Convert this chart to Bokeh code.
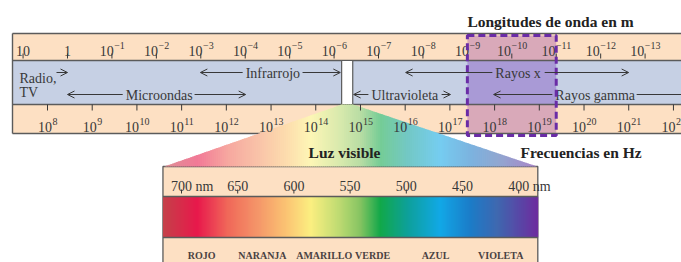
import numpy as np
from bokeh.plotting import figure
from bokeh.models import Range1d, ColumnDataSource, Arrow, OpenHead
from bokeh.core.properties import value
from bokeh.embed import file_html
from bokeh.resources import INLINE

# ------------------------------------------------------------------ data
wl_exponents = [1, 0, -1, -2, -3, -4, -5, -6, -7, -8, -9, -10, -11, -12, -13]
freq_exponents = [8, 9, 10, 11, 12, 13, 14, 15, 16, 17, 18, 19, 20, 21, 22]
nm_ticks = [700, 650, 600, 550, 500, 450, 400]
nm_labels = ["700 nm", "650", "600", "550", "500", "450", "400 nm"]
color_names = ["ROJO", "NARANJA", "AMARILLO", "VERDE", "AZUL", "VIOLETA"]
color_name_nm = [682, 628, 573, 530, 474, 416]

# regions of the spectrum, in log10(wavelength / m)
band_names = ["Infrarrojo", "Microondas", "Ultravioleta", "Rayos x", "Rayos gamma"]
band_start = [-2.99, 0.0, -6.44, -7.61, -9.59]
band_end = [-6.14, -4.01, -8.62, -12.63, -14.5]
band_text_from = [-4.01, -1.31, -6.84, -9.63, -10.98]
band_text_to = [-5.20, -2.77, -8.33, -10.65, -12.72]
band_row = [0, 1, 1, 0, 1]
highlight_exp = [-9, -11]          # X-ray window, 10^-9 .. 10^-11 m

# visible spectrum colour stops (nm -> colour)
spec_nm = [717, 686, 659, 630, 606, 585, 559, 541, 523, 499, 470, 443, 419, 383]
spec_col = ["#c4424a", "#e8194c", "#f0685a", "#f59a6a", "#fbc574", "#fbef80",
            "#bcda72", "#86c462", "#12a84a", "#0ea09a", "#12a8e6", "#1c7cc8",
            "#3f68b0", "#6e2c9e"]

# ------------------------------------------------------------------ layout
X0, DEC = 67.0, 44.43        # x of 1 m, pixels per decade
FX0, FDEC = 47.0, 44.71      # x of 10^8 Hz
NM700, NMSTEP = 181.0, 56.2  # x of 700 nm, pixels per 50 nm
BOX_L, BOX_R = 12, 700
Y_TOP, Y_1, Y_2, Y_BOT = 33, 60, 104, 133
ROW_Y = [72, 94]

PEACH = "#fde0c3"
BLUE = "#c6d0e4"
PEACH_HL = "#d9a9b9"
BLUE_HL = "#a99ad6"
EDGE = "#5b5b5b"
TXT = "#383838"
PURPLE = "#6a2ca6"
SERIF = value("Liberation Serif")


def wx(e):
    return X0 - DEC * e


def fx(e):
    return FX0 + FDEC * (e - 8)


def nx(nm):
    return NM700 + (700 - nm) * NMSTEP / 50.0


def hex2rgb(h):
    return np.array([int(h[i:i + 2], 16) for i in (1, 3, 5)], dtype=float)


stop_x = np.array([nx(v) for v in spec_nm])
stop_rgb = np.array([hex2rgb(c) for c in spec_col])


def spec_color(x, white=0.0):
    rgb = np.array([np.interp(x, stop_x, stop_rgb[:, k]) for k in range(3)])
    rgb = rgb * (1 - white) + 255 * white
    return "#%02x%02x%02x" % tuple(int(round(v)) for v in rgb)


p = figure(width=681, height=262, x_range=Range1d(0, 681), y_range=Range1d(262, 0),
           output_backend="svg", toolbar_location=None, min_border=0,
           x_axis_location=None, y_axis_location=None)
p.grid.visible = False
p.outline_line_color = None
p.background_fill_color = "white"
p.border_fill_color = "white"

# ---- main band fills
p.quad(left=[BOX_L] * 3, right=[BOX_R] * 3, top=[Y_TOP, Y_1, Y_2], bottom=[Y_1, Y_2, Y_BOT],
       fill_color=[PEACH, BLUE, PEACH], line_color=None)
hl_l, hl_r = wx(highlight_exp[0]), wx(highlight_exp[1])
p.quad(left=[hl_l] * 3, right=[hl_r] * 3, top=[35, Y_1, Y_2], bottom=[Y_1, Y_2, Y_BOT],
       fill_color=[PEACH_HL, BLUE_HL, PEACH_HL], line_color=None)

# border lines
p.segment(x0=[BOX_L] * 4 + [BOX_L], x1=[BOX_R] * 4 + [BOX_L],
          y0=[Y_TOP, Y_1, Y_2, Y_BOT, Y_TOP], y1=[Y_TOP, Y_1, Y_2, Y_BOT, Y_BOT],
          line_color=EDGE, line_width=1.4)
# white gap where visible light sits
gap_l, gap_r = wx(-6.17), wx(-6.42)
p.quad(left=[gap_l], right=[gap_r], top=[Y_1], bottom=[Y_2], fill_color="white",
       line_color=EDGE, line_width=1.2)

# ---- visible light box
VB_L, VB_R, VB_T, VB_B = nx(716.5), nx(383), 166, 275
p.quad(left=[VB_L], right=[VB_R], top=[VB_T], bottom=[VB_B], fill_color=PEACH,
       line_color=EDGE, line_width=1.3)

# trapezoid (fan) from gap to visible box, built from thin coloured strips
T_APEX_Y = Y_2
xs_f, ys_f, cs_f = [], [], []


def ytop(x):
    if x < gap_l:
        return T_APEX_Y + (gap_l - x) / (gap_l - (VB_L + 1)) * (VB_T - T_APEX_Y)
    if x > gap_r:
        return T_APEX_Y + (x - gap_r) / ((VB_R - 1) - gap_r) * (VB_T - T_APEX_Y)
    return T_APEX_Y


edges = np.arange(VB_L + 1, VB_R - 1 + 0.01, 2.0)
for a, b in zip(edges[:-1], edges[1:]):
    pts = [a, b]
    if a < gap_l < b:
        pts = [a, gap_l, b]
    if a < gap_r < b:
        pts = [a, gap_r, b]
    xs_f.append(pts + [b + 0.6, a])
    ys_f.append([ytop(v) for v in pts] + [VB_T, VB_T])
    xs_f[-1][len(pts) - 1] = b + 0.6
    cs_f.append(spec_color((a + b) / 2, white=0.42))
p.patches(xs=xs_f, ys=ys_f, fill_color=cs_f, line_color=None)

# spectrum bar
SB_T, SB_B = 196, 237
bx = np.arange(VB_L, VB_R, 1.0)
p.quad(left=bx, right=bx + 1.3, top=SB_T, bottom=SB_B,
       fill_color=[spec_color(v + 0.5) for v in bx], line_color=None)
p.segment(x0=[VB_L, VB_L], x1=[VB_R, VB_R], y0=[SB_T, SB_B], y1=[SB_T, SB_B],
          line_color=EDGE, line_width=1.3)

# nm ticks and labels
p.segment(x0=[nx(v) for v in nm_ticks], x1=[nx(v) for v in nm_ticks],
          y0=189, y1=193, line_color=TXT, line_width=1)
p.text(x=[nx(v) - 10.5 for v in nm_ticks], y=[185.5] * len(nm_ticks), text=nm_labels,
       text_font=SERIF, text_font_size="14px", text_color=TXT,
       text_align="left", text_baseline="alphabetic")
p.text(x=[nx(v) for v in color_name_nm], y=[255] * len(color_names), text=color_names,
       text_font=SERIF, text_font_size="10px", text_font_style="bold", text_color="#4a4242",
       text_align="center", text_baseline="alphabetic")


# ---- exponent labels
def exp_label(e, wavelength):
    if wavelength and e == 1:
        return "10", ""
    if wavelength and e == 0:
        return "1", ""
    return "10", (str(e).replace("-", "\u2212"))


def place_labels(exps, xfun, wavelength, base_y, sup_y):
    bx_, bt, sx, st = [], [], [], []
    for e in exps:
        base, sup = exp_label(e, wavelength)
        wb = 7.0 * len(base)
        ws = sum(5.6 if ch == "\u2212" else 5.0 for ch in sup)
        left = xfun(e) - (wb + ws) / 2
        bx_.append(left)
        bt.append(base)
        sx.append(left + wb + 0.5)
        st.append(sup)
    p.text(x=bx_, y=[base_y] * len(bt), text=bt, text_font=SERIF, text_font_size="14px",
           text_color=TXT, text_align="left", text_baseline="alphabetic")
    p.text(x=sx, y=[sup_y] * len(st), text=st, text_font=SERIF, text_font_size="10px",
           text_color=TXT, text_align="left", text_baseline="alphabetic")


p.segment(x0=[wx(e) for e in wl_exponents], x1=[wx(e) for e in wl_exponents],
          y0=53, y1=58, line_color=TXT, line_width=1)
place_labels(wl_exponents, wx, True, 50, 44.5)

p.segment(x0=[fx(e) for e in freq_exponents], x1=[fx(e) for e in freq_exponents],
          y0=Y_2, y1=Y_2 + 6, line_color=TXT, line_width=1)
place_labels(freq_exponents, fx, False, 126, 121)

# ---- band names with arrows
p.text(x=[19, 19], y=[78, 92], text=["Radio,", "TV"], text_font=SERIF,
       text_font_size="14px", text_color=TXT, text_align="left", text_baseline="alphabetic")
p.text(x=[wx(v) for v in band_text_from], y=[ROW_Y[r] + 0.5 for r in band_row], text=band_names,
       text_font=SERIF, text_font_size="14px", text_color=TXT,
       text_align="left", text_baseline="middle")

ax0, ax1, ay = [56], [67], [72]
for s, e, tf, tt, r in zip(band_start, band_end, band_text_from, band_text_to, band_row):
    ax0 += [wx(tf) - 3, wx(tt) + 4]
    ax1 += [wx(s), wx(e)]
    ay += [ROW_Y[r], ROW_Y[r]]
arr_src = ColumnDataSource(dict(x0=ax0, x1=ax1, y=ay))
p.add_layout(Arrow(source=arr_src, x_start="x0", y_start="y", x_end="x1", y_end="y",
                   line_color=TXT, line_width=1,
                   end=OpenHead(size=7, line_color=TXT, line_width=1)))

# ---- titles
p.text(x=[550], y=[21], text=["Longitudes de onda en m"], text_font=SERIF,
       text_font_size="15.5px", text_font_style="bold", text_color="#222222",
       text_align="center", text_baseline="alphabetic")
p.text(x=[344], y=[152], text=["Luz visible"], text_font=SERIF,
       text_font_size="15.5px", text_font_style="bold", text_color="#222222",
       text_align="center", text_baseline="alphabetic")
p.text(x=[520], y=[152], text=["Frecuencias en Hz"], text_font=SERIF,
       text_font_size="15.5px", text_font_style="bold", text_color="#222222",
       text_align="left", text_baseline="alphabetic")

# ---- dashed X-ray window
p.quad(left=[hl_l], right=[hl_r], top=[35], bottom=[135], fill_color=None,
       line_color=PURPLE, line_width=3, line_dash="7 4")

open("out.html", "w").write(file_html(p, INLINE))
